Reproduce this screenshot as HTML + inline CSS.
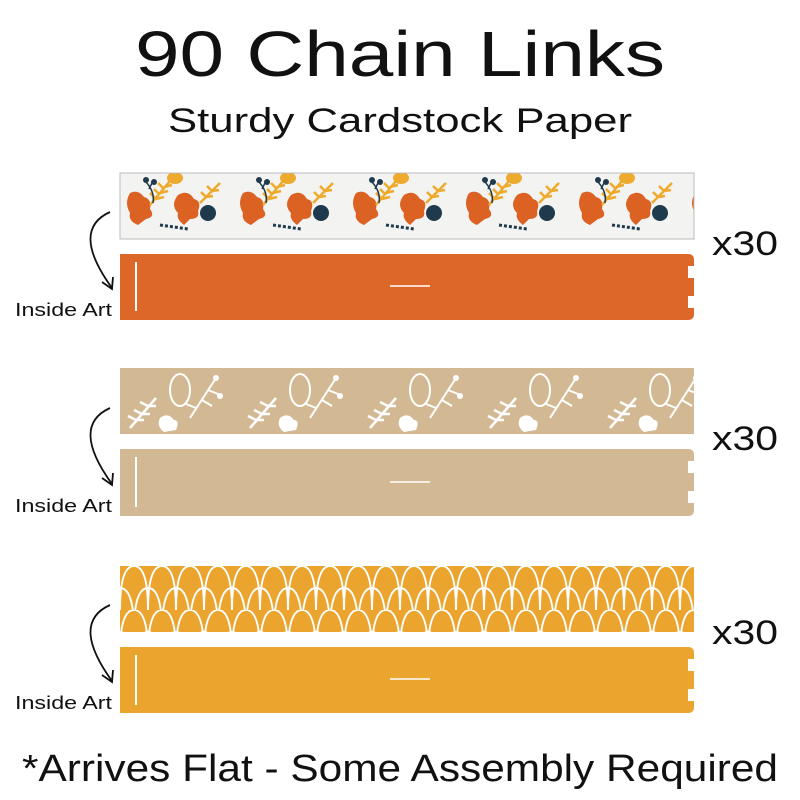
<!DOCTYPE html>
<html><head><meta charset="utf-8"><style>
html,body{margin:0;padding:0;background:#fff;width:800px;height:800px;overflow:hidden}
svg{display:block}
text{font-family:"Liberation Sans",sans-serif;fill:#111}
</style></head><body>
<svg width="800" height="800" viewBox="0 0 800 800" xmlns="http://www.w3.org/2000/svg">
<defs>
<pattern id="leaf" x="120" y="173" width="113" height="66" patternUnits="userSpaceOnUse">
<rect width="113" height="66" fill="#f3f3f1"/>
<path d="M10 20 q8 -4 14 4 q8 2 6 12 q6 8 -4 10 l-8 6 q-10 -4 -8 -12 q-6 -10 0 -20z" fill="#dc6224"/>
<path d="M30 32 l20 -24 M36 26 l-6 -6 M40 22 l-6 -6 M44 16 l-6 -6 M36 26 l8 -2 M40 20 l8 -2 M44 14 l8 -2" stroke="#eeaa2c" stroke-width="2.5"/>
<path d="M25 8 q10 10 8 22 M33 8 l-4 8" stroke="#1e3a4c" stroke-width="1.5" fill="none"/>
<circle cx="26" cy="7" r="3" fill="#1e3a4c"/><circle cx="34" cy="9" r="3" fill="#1e3a4c"/>
<path d="M58 22 q10 -6 16 4 q8 2 4 12 q2 8 -8 8 l-6 6 q-8 -6 -6 -12 q-8 -8 0 -18z" fill="#dc6224"/>
<circle cx="88" cy="40" r="8" fill="#1e3a4c"/>
<path d="M40 52 l28 4" stroke="#1e3a4c" stroke-width="3" stroke-dasharray="3 2"/>
<ellipse cx="55" cy="5" rx="8" ry="6" fill="#eeaa2c"/>
<path d="M80 30 l20 -20 M86 24 l-5 -5 M92 18 l-5 -5 M86 24 l7 -1 M92 18 l7 -1" stroke="#eeaa2c" stroke-width="2.5"/>
</pattern>
<pattern id="kraft" x="120" y="368" width="120" height="66" patternUnits="userSpaceOnUse">
<rect width="120" height="66" fill="#d3b993"/>
<ellipse cx="60" cy="22" rx="10" ry="16" fill="none" stroke="#fff" stroke-width="2"/>
<path d="M10 60 l26 -30 M16 52 l-8 -4 M22 46 l-8 -4 M28 38 l-8 -4 M16 52 l8 0 M22 46 l8 0 M28 38 l8 0" stroke="#fff" stroke-width="2.5"/>
<path d="M70 50 l26 -40 M82 32 l10 6 M88 22 l10 4 M76 40 l-10 -4" stroke="#fff" stroke-width="2"/>
<circle cx="96" cy="10" r="3" fill="#fff"/><circle cx="100" cy="28" r="3" fill="#fff"/>
<path d="M40 50 q8 -6 14 2 q6 0 2 10 l-12 2 q-8 -6 -4 -14z" fill="#fff"/>
</pattern>
<pattern id="scale" x="120" y="566" width="28" height="44" patternUnits="userSpaceOnUse">
<rect width="28" height="44" fill="#eba42e"/>
<path d="M0 44 Q0 0 14 0 Q28 0 28 44 M-14 22 Q-14 -22 0 -22 M14 66 Q14 22 28 22 Q42 22 42 66 M-14 66 Q-14 22 0 22 Q14 22 14 66" fill="none" stroke="#fff" stroke-width="2"/>
</pattern>
</defs>

<text x="135" y="76" font-size="64" textLength="530" lengthAdjust="spacingAndGlyphs">90 Chain Links</text>
<text x="168" y="132" font-size="34" textLength="464" lengthAdjust="spacingAndGlyphs">Sturdy Cardstock Paper</text>

<rect x="120" y="173" width="574" height="66" fill="url(#leaf)" stroke="#bbb" stroke-width="1"/>
<path d="M120 254 H688 q6 0 6 6 V266 h-6 v12 h6 v18 h-6 v12 h6 v6 q0 6 -6 6 H120z" fill="#dc6728"/>
<line x1="136" y1="262" x2="136" y2="311" stroke="#fff" stroke-width="2"/>
<line x1="390" y1="286" x2="430" y2="286" stroke="#fff" stroke-width="1.5"/>

<rect x="120" y="368" width="574" height="66" fill="url(#kraft)"/>
<path d="M120 449 H688 q6 0 6 6 V461 h-6 v12 h6 v18 h-6 v12 h6 v7 q0 6 -6 6 H120z" fill="#d3b993"/>
<line x1="136" y1="457" x2="136" y2="507" stroke="#fff" stroke-width="2"/>
<line x1="390" y1="482" x2="430" y2="482" stroke="#fff" stroke-width="1.5"/>

<rect x="120" y="566" width="574" height="66" fill="url(#scale)"/>
<path d="M120 647 H688 q6 0 6 6 V659 h-6 v12 h6 v18 h-6 v12 h6 v6 q0 6 -6 6 H120z" fill="#eba42e"/>
<line x1="136" y1="655" x2="136" y2="705" stroke="#fff" stroke-width="2"/>
<line x1="390" y1="679" x2="430" y2="679" stroke="#fff" stroke-width="1.5"/>

<g fill="none" stroke="#111" stroke-width="1.8">
<path d="M110 212 Q70 230 112 288"/><path d="M102 282 L112 289 L113 277"/>
<path d="M110 408 Q70 426 112 484"/><path d="M102 478 L112 485 L113 473"/>
<path d="M110 605 Q70 623 112 681"/><path d="M102 675 L112 682 L113 670"/>
</g>
<text x="15" y="316" font-size="18" textLength="97" lengthAdjust="spacingAndGlyphs">Inside Art</text>
<text x="15" y="512" font-size="18" textLength="97" lengthAdjust="spacingAndGlyphs">Inside Art</text>
<text x="15" y="709" font-size="18" textLength="97" lengthAdjust="spacingAndGlyphs">Inside Art</text>

<text x="712" y="255" font-size="34" textLength="66" lengthAdjust="spacingAndGlyphs">x30</text>
<text x="712" y="450" font-size="34" textLength="66" lengthAdjust="spacingAndGlyphs">x30</text>
<text x="712" y="644" font-size="34" textLength="66" lengthAdjust="spacingAndGlyphs">x30</text>

<text x="22" y="781" font-size="38" textLength="756" lengthAdjust="spacingAndGlyphs">*Arrives Flat - Some Assembly Required</text>
</svg>
</body></html>
